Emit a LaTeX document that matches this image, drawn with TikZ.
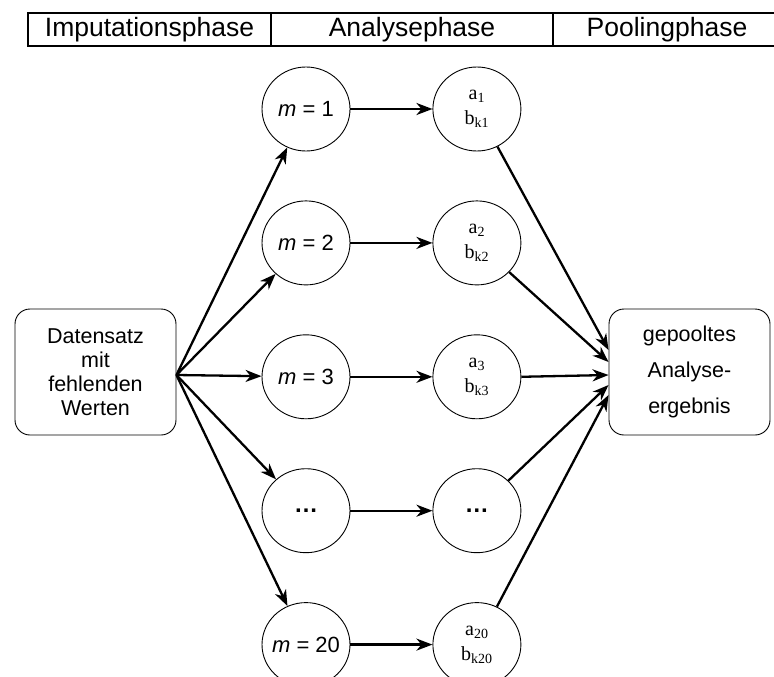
\documentclass[tikz,border=0pt]{standalone}
\usepackage{fontspec}
\setmainfont{Liberation Sans}
\newfontfamily\serifschrift{Liberation Serif}
\usetikzlibrary{shapes.geometric, positioning, arrows.meta}

\tikzset{
  phase/.style={draw, line width=1.8pt, outer sep=0pt, minimum height=33pt,
    font=\fontsize{26.5}{28}\selectfont},
  imp/.style={draw, ellipse, line width=0.9pt, inner sep=-10pt,
    minimum width=88pt, minimum height=84pt, font=\fontsize{22}{24}\selectfont},
  ana/.style={imp, align=center, font=\serifschrift\fontsize{20}{25}\selectfont},
  datbox/.style={draw, rounded corners=15pt, line width=0.9pt,
    minimum width=161pt, minimum height=126pt, align=center},
  pfeil/.style={line width=2.3pt, -{Stealth[length=16pt, width=12pt, inset=5pt]}}
}
\newcommand{\idx}[1]{\textsubscript{\fontsize{14}{14}\selectfont #1}}

\begin{document}
\begin{tikzpicture}[x=1pt, y=-1pt]
    \useasboundingbox (0,0) rectangle (774,677);

    % Phasen
    \node [phase, minimum width=243pt] (Imp) at (149.5,29.5) {Imputationsphase};%
    \node [phase, minimum width=282pt, right=0pt of Imp] (Ana) {Analysephase};%
    \node [phase, minimum width=228pt, right=0pt of Ana] (Pool) {Poolingphase};%

    % Datensatz
    \node [datbox, font=\fontsize{21.5}{24}\selectfont] (D) at (95.5,372)
    {Datensatz\\mit\\fehlenden\\Werten};%

    % Imputationen
    \node [imp] (M1) at (306,109) {\textit{m} = 1};%
    \node [imp, below=49pt of M1] (M2) {\textit{m} = 2};%
    \node [imp, below=49pt of M2] (M3) {\textit{m} = 3};%
    \node [imp, below=49pt of M3] (M4) {\fontsize{24}{24}\selectfont\textbf{\dots}};%
    \node [imp, below=49pt of M4] (M20) {\textit{m} = 20};%

    % Analysen
    \node [ana, right=82pt of M1] (A1) {a\idx{1}\\b\idx{k1}};%
    \node [ana, right=82pt of M2] (A2) {a\idx{2}\\b\idx{k2}};%
    \node [ana, right=82pt of M3] (A3) {a\idx{3}\\b\idx{k3}};%
    \node [imp, right=82pt of M4] (A4) {\fontsize{24}{24}\selectfont\textbf{\dots}};%
    \node [ana, right=82pt of M20] (A20) {a\idx{20}\\b\idx{k20}};%

    % Ergebnis
    \node [datbox, font=\fontsize{21.5}{36}\selectfont] (E) at (689.5,372)
    {gepooltes\\Analyse-\\ergebnis};%

    % arrows
    \foreach \m in {1,2,3,4,20}
    {
      \draw [pfeil] ([yshift=-3pt]D.east) -- (M\m);%
      \draw [pfeil] (M\m) -- (A\m);%
    }
    \draw [pfeil] (A1) -- ([yshift=22pt]E.west);%
    \draw [pfeil] (A2) -- ([yshift=10pt]E.west);%
    \draw [pfeil] (A3.east) -- ([yshift=-3pt]E.west);%
    \draw [pfeil] (A4) -- ([yshift=-13pt]E.west);%
    \draw [pfeil] (A20) -- ([yshift=-23pt]E.west);
\end{tikzpicture}
\end{document}
